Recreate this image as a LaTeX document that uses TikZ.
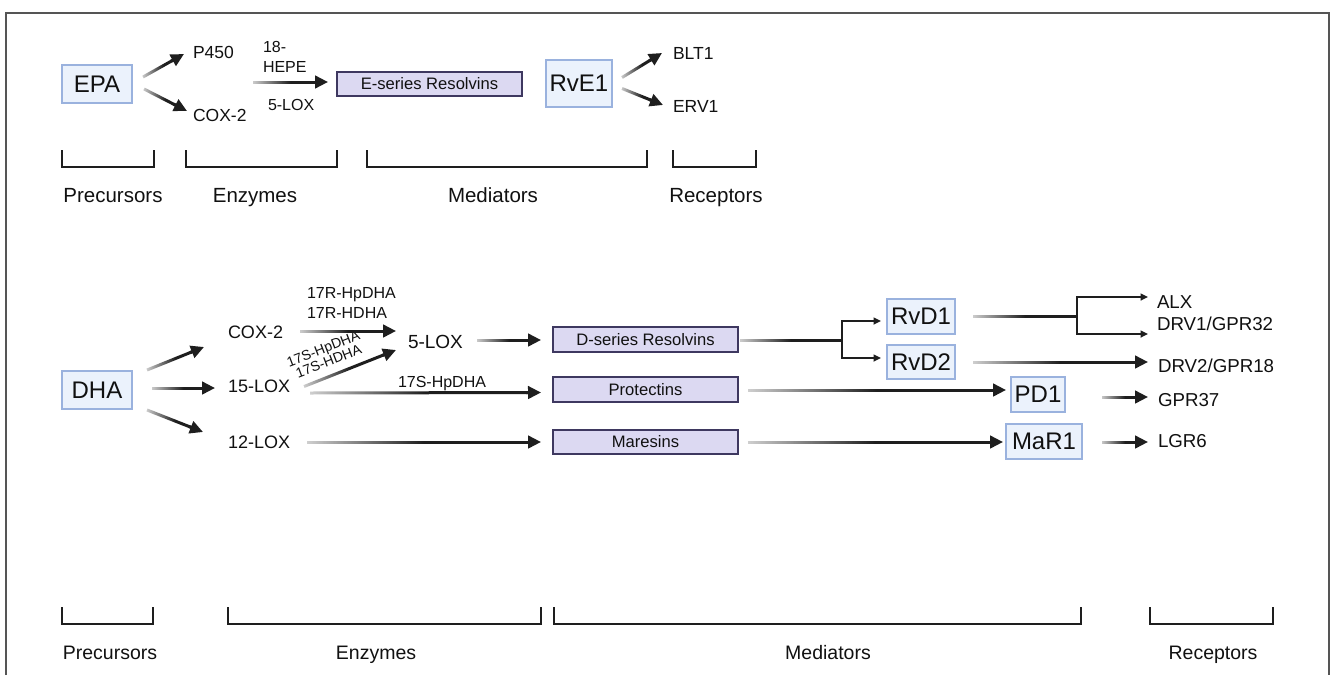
\documentclass[tikz,border=0pt]{standalone}
\usepackage{fontspec}
\setmainfont{Liberation Sans}
\usetikzlibrary{arrows.meta,fadings,calc}
\definecolor{arrowc}{HTML}{1E1E1E}
\definecolor{txt}{HTML}{111111}
\definecolor{bluefill}{HTML}{EBF2FC}
\definecolor{blueline}{HTML}{9AB2DE}
\definecolor{purfill}{HTML}{DCD9F2}
\definecolor{purline}{HTML}{3E3860}
\definecolor{framec}{HTML}{555555}
\tikzfading[name=tailfade, left color=transparent!80, right color=transparent!0, middle color=transparent!0]
\tikzset{
  bluebox/.style={draw=blueline, fill=bluefill, line width=2pt, inner sep=0pt, outer sep=0pt, text=txt, font=\fontsize{24}{28}\selectfont},
  purbox/.style={draw=purline, fill=purfill, line width=2pt, inner sep=0pt, outer sep=0pt, text=txt, minimum width=185pt, font=\fontsize{16.6}{19}\selectfont},
  lbl/.style={inner sep=0pt, outer sep=0pt, text=txt},
  fA/.style={font=\fontsize{17.5}{20}\selectfont},
  fB/.style={font=\fontsize{16}{18}\selectfont},
  fC/.style={font=\fontsize{18}{21}\selectfont},
  fD/.style={font=\fontsize{16}{19}\selectfont},
  fR/.style={font=\fontsize{18.7}{22}\selectfont},
  fS/.style={font=\fontsize{14}{16}\selectfont},
  fadeline/.style={draw=arrowc, line width=3pt, path fading=tailfade},
  fadeshort/.style={draw=arrowc, line width=3pt, path fading=tailfade, shorten >=11pt},
  tipline/.style={draw=arrowc, line width=3pt, -{Triangle[length=13pt,width=12.5pt]}},
  thinarr/.style={draw=arrowc, line width=1.6pt, -{Triangle[length=7.5pt,width=7pt]}},
  brk/.style={draw=arrowc, line width=2.4pt, line join=miter},
}
% faded arrow: #1 start, #2 end (coordinate expressions)
\newcommand\fadearrow[2]{%
  \coordinate (fs) at #1;
  \coordinate (fe) at #2;
  \draw[fadeshort] (fs) -- (fe);
  \draw[tipline] ($(fe)!15pt!(fs)$) -- (fe);
}
\begin{document}
\begin{tikzpicture}[x=1pt,y=-1pt]
\useasboundingbox (0,0) rectangle (1330,675);
\fill[white] (0,0) rectangle (1330,675);
% frame
\draw[framec, line width=1.5pt] (6,675) -- (6,13) -- (1329,13) -- (1329,675);

% ---------- top: EPA ----------
\node[bluebox, minimum width=70pt, minimum height=38pt] (epa) at (97,84) {EPA};
\node[lbl, fA, anchor=base west] (p450) at (193,58) {P450};
\node[lbl, fA, anchor=base west] (cox2a) at (193,121) {COX-2};
\node[lbl, fB, anchor=base west] (hepe1) at (263,52) {18-};
\node[lbl, fB, anchor=base west] (hepe2) at (263,72) {HEPE};
\node[lbl, fB, anchor=base west] (lox5a) at (268,110) {5-LOX};
\node[purbox, minimum height=24pt] (eser) at (429.5,84) {E-series Resolvins};
\node[bluebox, minimum width=66pt, minimum height=47pt] (rve1) at (579,83.5) {RvE1};
\node[lbl, fA, anchor=base west] (blt1) at (673,59) {BLT1};
\node[lbl, fA, anchor=base west] (erv1) at (673,112) {ERV1};

\fadearrow{($(epa.east)+(11,-7)$)}{($(p450.base west)+(-9,-4)$)}
\fadearrow{($(epa.east)+(12,5)$)}{($(cox2a.base west)+(-6,-10)$)}
\fadearrow{($(eser.west)+(-84,-2)$)}{($(eser.west)+(-9,-2)$)}
\fadearrow{($(rve1.east)+(10,-6)$)}{($(blt1.base west)+(-11,-6)$)}
\fadearrow{($(rve1.east)+(10,5)$)}{($(erv1.base west)+(-10,-7)$)}

% top brackets
\draw[brk] (62,150) |- (154,167) -- (154,150);
\draw[brk] (186,150) |- (337,167) -- (337,150);
\draw[brk] (367,150) |- (647,167) -- (647,150);
\draw[brk] (673,150) |- (756,167) -- (756,150);
\node[lbl, font=\fontsize{20.5}{24}\selectfont, anchor=base] (t1) at (113,202) {Precursors};
\node[lbl, font=\fontsize{20.5}{24}\selectfont, anchor=base] (t2) at (255,202) {Enzymes};
\node[lbl, font=\fontsize{20.5}{24}\selectfont, anchor=base] (t3) at (493,202) {Mediators};
\node[lbl, font=\fontsize{20.5}{24}\selectfont, anchor=base] (t4) at (716,202) {Receptors};

% ---------- bottom: DHA ----------
\node[bluebox, minimum width=70pt, minimum height=38pt] (dha) at (97,390) {DHA};
\node[lbl, fC, anchor=base west] (cox2b) at (228,338) {COX-2};
\node[lbl, fC, anchor=base west] (lox15) at (228,392.5) {15-LOX};
\node[lbl, fC, anchor=base west] (lox12) at (228,448) {12-LOX};
\node[lbl, font=\fontsize{19}{22}\selectfont, anchor=base west] (lox5b) at (408,348) {5-LOX};
\node[lbl, fD, anchor=base west] (r17a) at (307,298) {17R-HpDHA};
\node[lbl, fD, anchor=base west] (r17b) at (307,318) {17R-HDHA};
\node[lbl, fS, anchor=base west, rotate=21] (s17a) at (289,367) {17S-HpDHA};
\node[lbl, fS, anchor=base west, rotate=21] (s17b) at (298,378) {17S-HDHA};
\node[lbl, fD, anchor=base west] (s17p) at (398,387) {17S-HpDHA};

\node[purbox, minimum height=25pt] (dser) at (645.5,339.5) {D-series Resolvins};
\node[purbox, minimum height=25pt] (prot) at (645.5,389.5) {Protectins};
\node[purbox, minimum height=24pt] (mar) at (645.5,442) {Maresins};

\node[bluebox, minimum width=68pt, minimum height=35pt] (rvd1) at (921,316.5) {RvD1};
\node[bluebox, minimum width=68pt, minimum height=34pt] (rvd2) at (921,362) {RvD2};
\node[bluebox, minimum width=54pt, minimum height=35pt] (pd1) at (1038,394.5) {PD1};
\node[bluebox, minimum width=76pt, minimum height=35pt] (mar1) at (1044,441.5) {MaR1};

\node[lbl, fR, anchor=base west] (alx) at (1157,308) {ALX};
\node[lbl, fR, anchor=base west] (drv1) at (1157,330) {DRV1/GPR32};
\node[lbl, fR, anchor=base west] (drv2) at (1158,372) {DRV2/GPR18};
\node[lbl, fR, anchor=base west] (gpr37) at (1158,406) {GPR37};
\node[lbl, fR, anchor=base west] (lgr6) at (1158,447) {LGR6};

% DHA arrows
\fadearrow{($(dha.east)+(15,-20)$)}{($(cox2b.base west)+(-24,9)$)}
\fadearrow{($(dha.east)+(20,-2)$)}{($(lox15.base west)+(-13,-4.5)$)}
\fadearrow{($(dha.east)+(15,20)$)}{($(lox12.base west)+(-25,-16)$)}
% enzymes
\fadearrow{($(cox2b.base west)+(72,-7)$)}{($(lox5b.base west)+(-12,-17)$)}
\fadearrow{($(lox15.base west)+(76,-6)$)}{($(lox5b.base west)+(-12,2)$)}
\fadearrow{($(lox5b.base west)+(69,-8)$)}{($(dser.west)+(-12,0.5)$)}
\fadearrow{($(lox15.base west)+(82,0.5)$)}{($(prot.west)+(-12,3)$)}
\fadearrow{($(lox12.base west)+(79,-6)$)}{($(mar.west)+(-12,0)$)}

% D-series branch
\coordinate (bD) at ($(dser.east)+(104,0.5)$);
\draw[fadeline] ($(dser.east)+(2,0.5)$) -- (bD);
\draw[thinarr] (bD) |- ($(rvd1.west)+(-6,4.5)$);
\draw[thinarr] (bD) |- ($(rvd2.west)+(-6,-4)$);

% RvD1 branch
\coordinate (bR) at ($(rvd1.east)+(122,-0.5)$);
\draw[fadeline] ($(rvd1.east)+(18,-0.5)$) -- (bR);
\draw[thinarr] (bR) |- ($(alx.base west)+(-9,-11)$);
\draw[thinarr] (bR) |- ($(drv1.base west)+(-9,4)$);

\fadearrow{($(rvd2.east)+(18,0)$)}{($(drv2.base west)+(-10,-10)$)}
\fadearrow{($(prot.east)+(10,0.5)$)}{($(pd1.west)+(-5,-4.5)$)}
\fadearrow{($(pd1.east)+(37,2.5)$)}{($(gpr37.base west)+(-10,-9)$)}
\fadearrow{($(mar.east)+(10,0)$)}{($(mar1.west)+(-3,0.5)$)}
\fadearrow{($(mar1.east)+(20,0.5)$)}{($(lgr6.base west)+(-10,-5)$)}

% bottom brackets
\draw[brk] (62,607) |- (153,624) -- (153,607);
\draw[brk] (228,607) |- (541,624) -- (541,607);
\draw[brk] (554,607) |- (1081,624) -- (1081,607);
\draw[brk] (1150,607) |- (1273,624) -- (1273,607);
\node[lbl, font=\fontsize{19.5}{23}\selectfont, anchor=base] (b1) at (110,659) {Precursors};
\node[lbl, font=\fontsize{19.5}{23}\selectfont, anchor=base] (b2) at (376,659) {Enzymes};
\node[lbl, font=\fontsize{19.5}{23}\selectfont, anchor=base] (b3) at (828,659) {Mediators};
\node[lbl, font=\fontsize{19.5}{23}\selectfont, anchor=base] (b4) at (1213,659) {Receptors};
\end{tikzpicture}
\end{document}
